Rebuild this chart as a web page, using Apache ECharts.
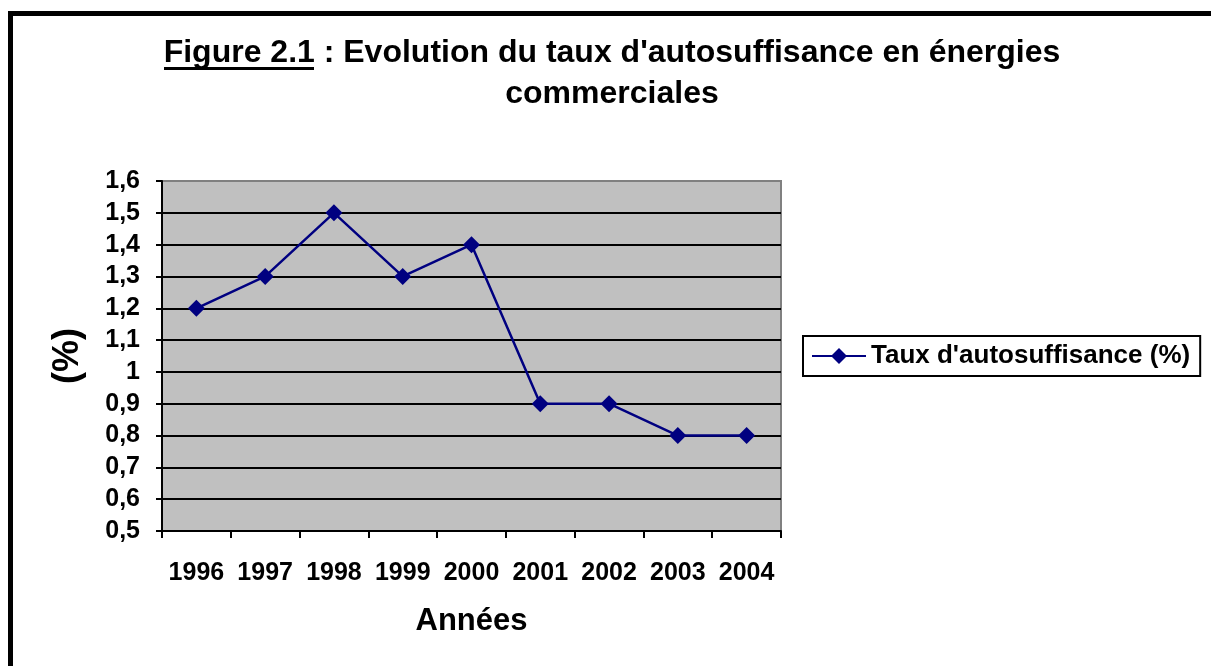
<!DOCTYPE html>
<html>
<head>
<meta charset="utf-8">
<script src="https://cdn.jsdelivr.net/npm/echarts@6/dist/echarts.min.js"></script>
<style>
  html, body { margin: 0; padding: 0; background: #fff; }
  #chart { width: 1211px; height: 666px; }
</style>
</head>
<body>
<div id="chart"></div>
<script>
// données
const annees = ['1996', '1997', '1998', '1999', '2000', '2001', '2002', '2003', '2004']
const taux = [1.2, 1.3, 1.5, 1.3, 1.4, 0.9, 0.9, 0.8, 0.8]
const serieNom = "Taux d'autosuffisance (%)"
const yMin = 0.5
const yMax = 1.6
const yPas = 0.1

const police = '"Liberation Sans", Arial, sans-serif'

const chart = echarts.init(document.getElementById('chart'), null, { renderer: 'canvas' })

// lignes de grille noires, la derniere (bord haut) grise
const nbTicks = Math.round((yMax - yMin) / yPas) + 1
const couleursGrille = []
for (let i = 0; i < nbTicks; i++) {
    couleursGrille.push(i === nbTicks - 1 ? '#808080' : '#000')
}

chart.setOption({
    backgroundColor: '#fff',
    animation: false,
    title: {
        left: 607,
        top: 28,
        textAlign: 'center',
        text: "Figure 2.1 : Evolution du taux d'autosuffisance en énergies\ncommerciales",
        textStyle: {
            color: '#000',
            fontFamily: police,
            fontWeight: 'bold',
            fontSize: 32,
            lineHeight: 41
        }
    },
    graphic: [
        {
            // cadre noir autour de la figure
            type: 'rect',
            shape: { x: 10.5, y: 13.5, width: 1300, height: 800 },
            style: { fill: 'none', stroke: '#000', lineWidth: 5 },
            silent: true
        },
        {
            // soulignement de "Figure 2.1"
            type: 'rect',
            shape: { x: 164, y: 67, width: 150, height: 3 },
            style: { fill: '#000' },
            silent: true
        }
    ],
    legend: {
        left: 803,
        top: 336,
        data: [serieNom],
        itemWidth: 54,
        itemHeight: 20,
        padding: [7, 10, 7, 8],
        borderColor: '#000',
        borderWidth: 2,
        textStyle: {
            color: '#000',
            fontFamily: police,
            fontWeight: 'bold',
            fontSize: 26
        }
    },
    grid: {
        left: 162,
        top: 181,
        right: 430,
        bottom: 135,
        show: true,
        backgroundColor: '#C0C0C0',
        borderColor: '#808080',
        borderWidth: 2,
        containLabel: false
    },
    xAxis: {
        type: 'category',
        data: annees,
        boundaryGap: true,
        name: 'Années',
        nameLocation: 'middle',
        nameGap: 75,
        nameTextStyle: {
            color: '#000',
            fontFamily: police,
            fontWeight: 'bold',
            fontSize: 31
        },
        axisLine: { lineStyle: { color: '#000', width: 2 } },
        axisTick: { show: true, interval: 0, length: 7, lineStyle: { color: '#000', width: 2 } },
        axisLabel: {
            interval: 0,
            margin: 30,
            color: '#000',
            fontFamily: police,
            fontWeight: 'bold',
            fontSize: 25
        },
        splitLine: { show: false }
    },
    yAxis: {
        type: 'value',
        min: yMin,
        max: yMax,
        interval: yPas,
        name: '(%)',
        nameLocation: 'middle',
        nameRotate: 90,
        nameGap: 76,
        nameTextStyle: {
            color: '#000',
            fontFamily: police,
            fontWeight: 'bold',
            fontSize: 36
        },
        axisLine: { show: true, lineStyle: { color: '#000', width: 2 } },
        axisTick: { show: true, length: 6, lineStyle: { color: '#000', width: 2 } },
        axisLabel: {
            margin: 22,
            color: '#000',
            fontFamily: police,
            fontWeight: 'bold',
            fontSize: 25,
            formatter: function (v) {
                return String(+v.toFixed(1)).replace('.', ',')
            }
        },
        splitLine: { show: true, lineStyle: { color: couleursGrille, width: 2 } }
    },
    series: [
        {
            name: serieNom,
            type: 'line',
            data: taux,
            symbol: 'diamond',
            symbolSize: 17,
            showSymbol: true,
            itemStyle: { color: '#000080' },
            lineStyle: { color: '#000080', width: 2.5 },
            z: 5
        }
    ]
})
</script>
</body>
</html>
